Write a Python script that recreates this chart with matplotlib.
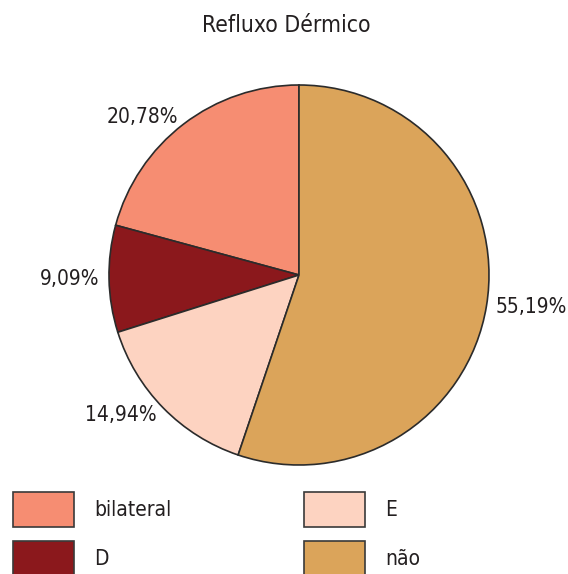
import matplotlib
matplotlib.use("Agg")
import matplotlib.pyplot as plt
from matplotlib.patches import Patch

plt.rcParams['font.family'] = ['DejaVu Sans']
plt.rcParams['font.stretch'] = 'condensed'

categories = ['bilateral', 'D', 'E', 'não']
values = [20.78, 9.09, 14.94, 55.19]
pct_labels = ['20,78%', '9,09%', '14,94%', '55,19%']
colors = ['#F68D72', '#8B181C', '#FDD3C1', '#DBA45A']
title = 'Refluxo Dérmico'

W, H = 568, 574
fig = plt.figure(figsize=(W / 100, H / 100), dpi=100)
cx, cy, R = 299, 275, 190
ax = fig.add_axes([(cx - R) / W, (H - cy - R) / H, 2 * R / W, 2 * R / H])
wedges, texts = ax.pie(values, labels=pct_labels, colors=colors, startangle=90,
                       counterclock=True, labeldistance=1.05,
                       wedgeprops=dict(edgecolor='#2b2b2b', linewidth=1.2),
                       textprops=dict(fontsize=15, color='#231f20'))
ax.set_xlim(-1, 1)
ax.set_ylim(-1, 1)
ax.set_aspect('equal')
ax.axis('off')

fig.text(286.5 / W, 1 - 25 / H, title, ha='center', va='center', fontsize=16.5, color='#231f20')

handles = [Patch(facecolor=c, edgecolor='#3a3a3a', linewidth=1.2) for c in colors]
fig.legend(handles, categories, ncol=2, loc='upper left',
           bbox_to_anchor=(13 / W, 1 - 492 / H), frameon=False,
           borderpad=0, borderaxespad=0, fontsize=15,
           handlelength=2.93, handleheight=2.22, handletextpad=0.95,
           columnspacing=6.4, labelspacing=0.65, labelcolor='#231f20')

fig.savefig('out.png', dpi=100, facecolor='white')
